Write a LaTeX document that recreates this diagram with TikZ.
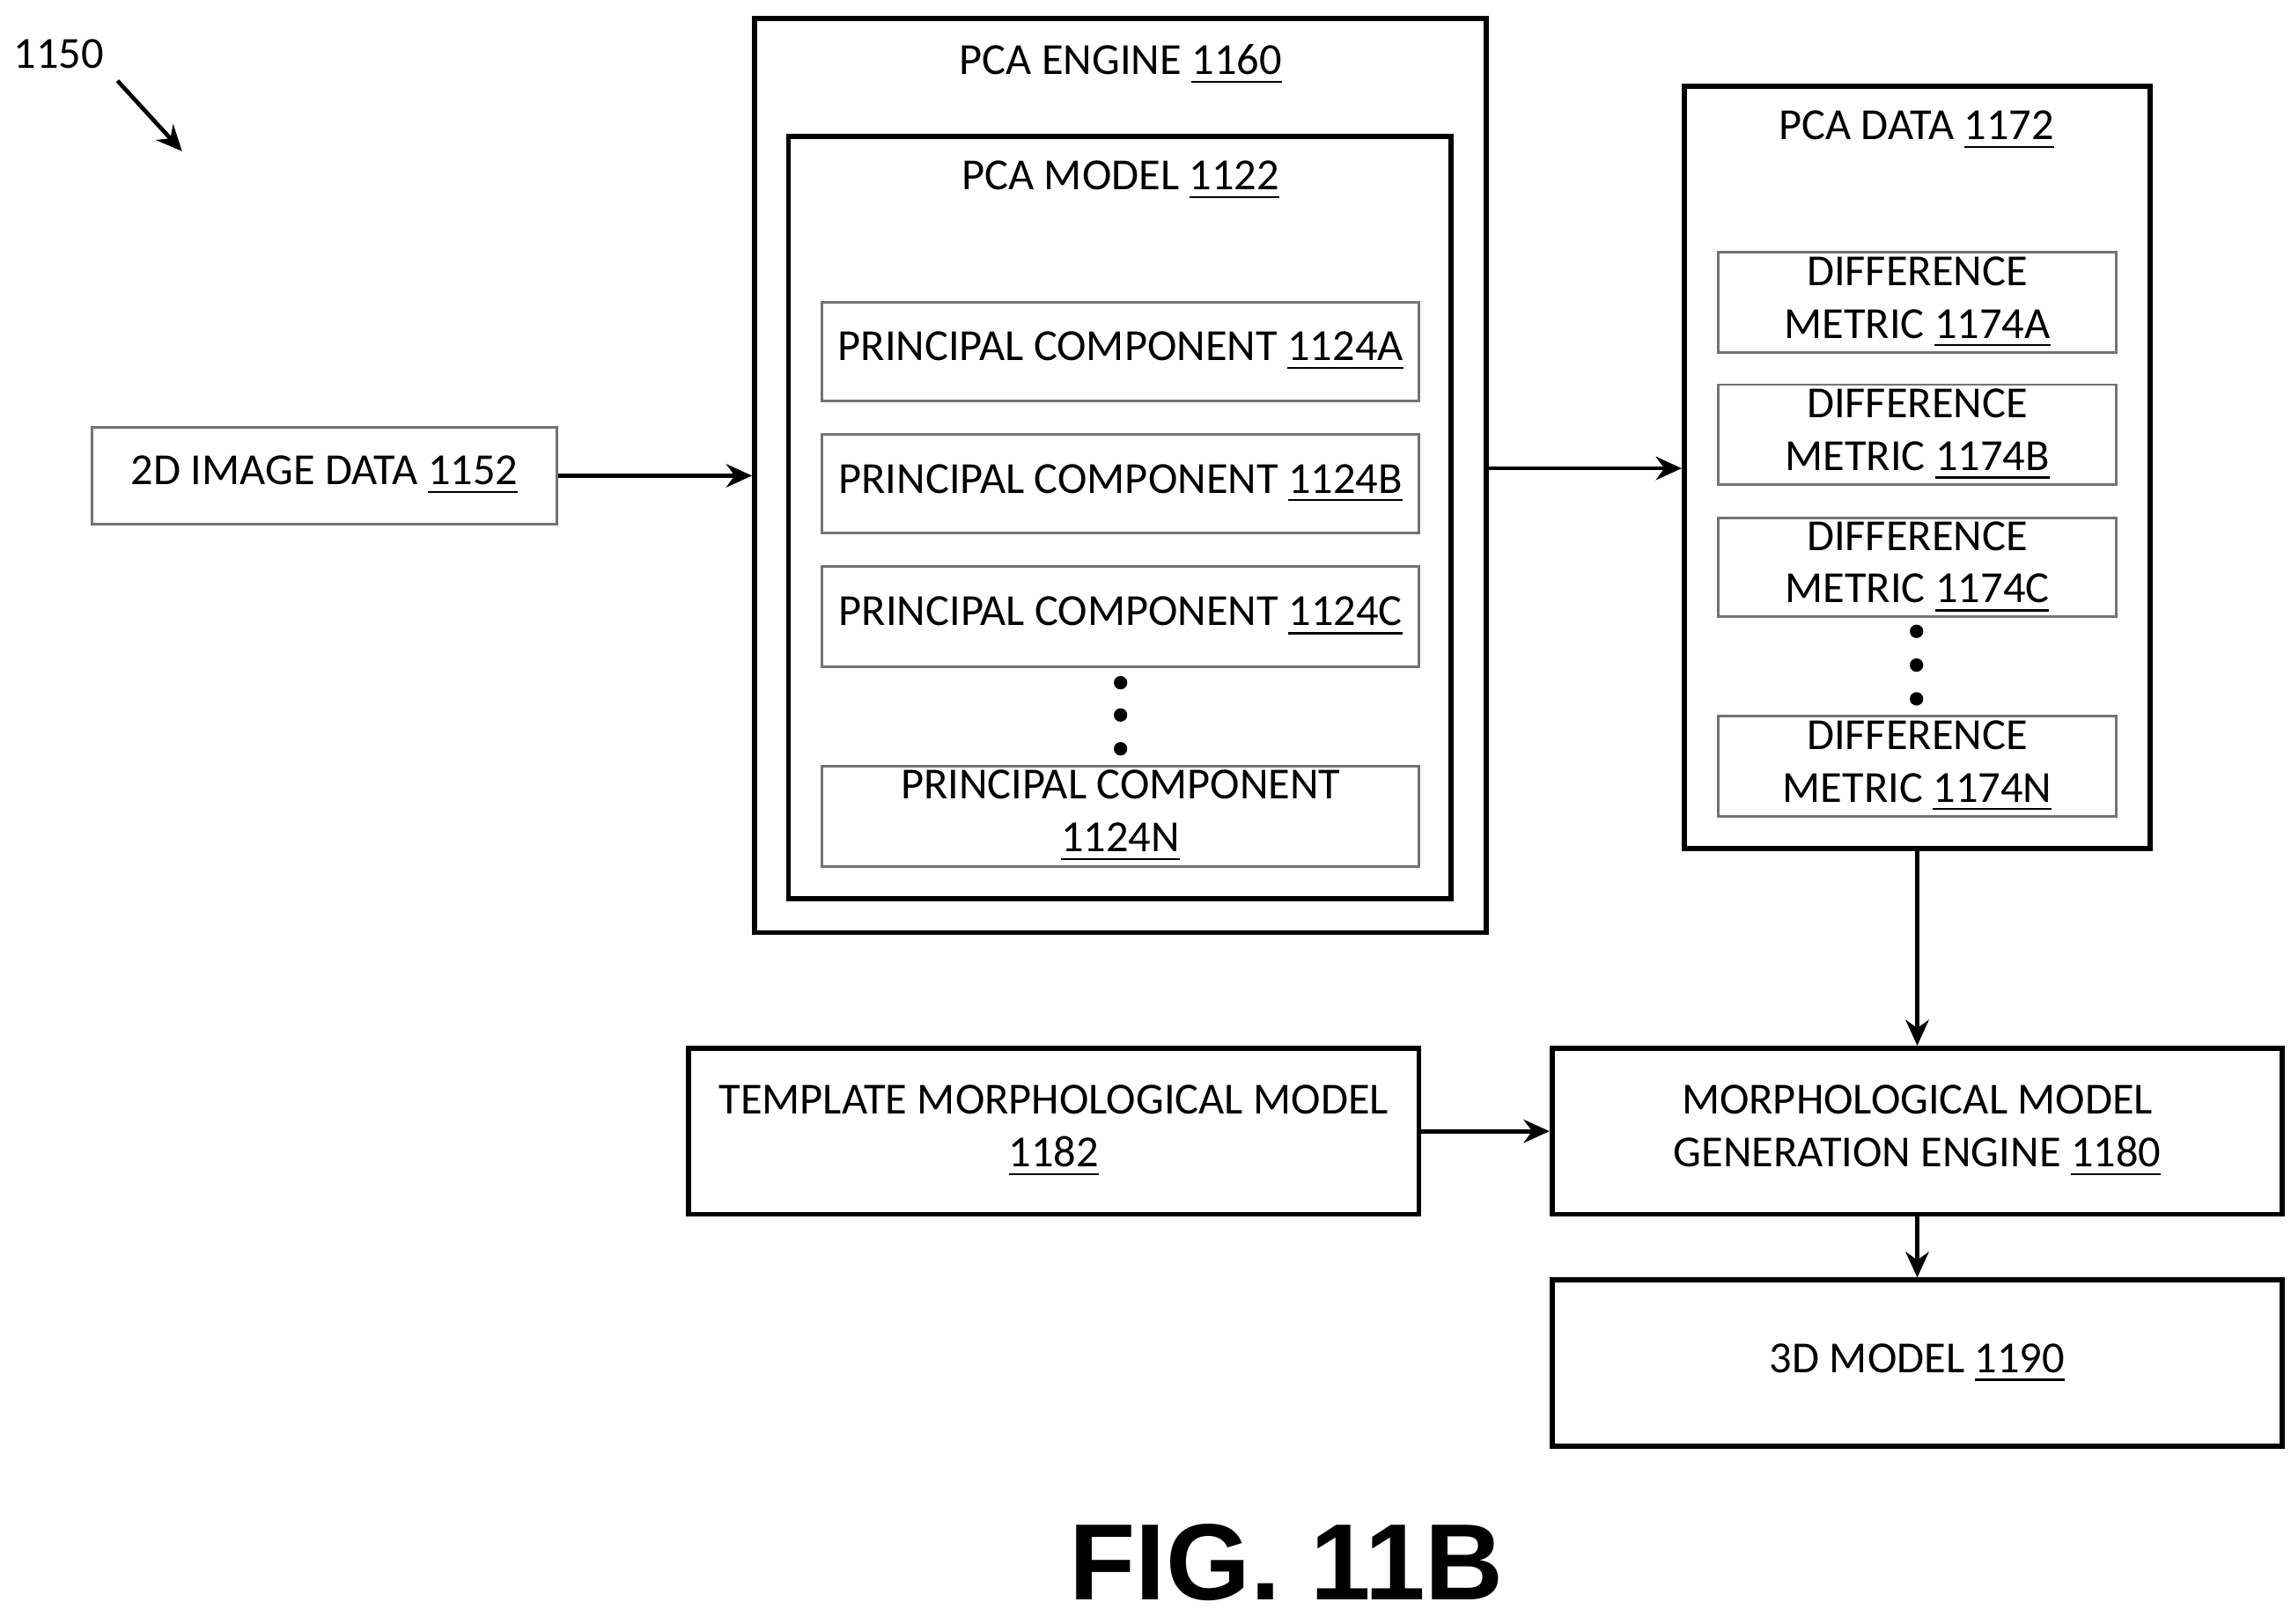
\documentclass[tikz,border=0pt]{standalone}
\usepackage{fontspec}
\setmainfont{Carlito}
\newfontfamily\figfont{Liberation Sans}
\usetikzlibrary{arrows.meta}
\newcommand{\un}[1]{\underline{#1}}
\tikzset{
  every node/.style={font=\fontsize{8.6}{10.2}\selectfont, align=center, inner sep=0pt},
  thin box/.style={draw=black!55, line width=0.5pt},
  thick box/.style={draw=black, line width=1pt},
  arr/.style={-{Stealth[length=5pt,width=4.5pt]}, line width=0.8pt}
}
\begin{document}
\begin{tikzpicture}[x=0.01cm, y=-0.01cm]
  \useasboundingbox (0,0) rectangle (1560,1106);
  % label and pointer
  \node (ref) at (40,37) {1150};
  \coordinate (refa) at (80,55);
  \coordinate (refb) at (124,103);
  \draw[arr] (refa) -- (refb);
  % input
  \node[thin box, minimum width=3.16cm, minimum height=0.66cm] (img) at (221,324) {2D IMAGE DATA \un{1152}};
  % PCA engine
  \node[thick box, minimum width=4.98cm, minimum height=6.22cm] (engine) at (763,324) {};
  \node at (763,44) {PCA ENGINE \un{1160}};
  \node[thick box, minimum width=4.51cm, minimum height=5.19cm] (model) at (762.5,352.5) {};
  \node at (763,123) {PCA MODEL \un{1122}};
  \node[thin box, minimum width=4.06cm, minimum height=0.67cm] (pca) at (763,239.5) {PRINCIPAL COMPONENT \un{1124A}};
  \node[thin box, minimum width=4.06cm, minimum height=0.67cm] (pcb) at (763,329.5) {PRINCIPAL COMPONENT \un{1124B}};
  \node[thin box, minimum width=4.06cm, minimum height=0.68cm] (pcc) at (763,420) {PRINCIPAL COMPONENT \un{1124C}};
  \node[thin box, minimum width=4.06cm, minimum height=0.68cm] (pcn) at (763,556) {PRINCIPAL COMPONENT\\\un{1124N}};
  \foreach \yy in {465,487,510} \fill (763,\yy) circle (1.3pt);
  % PCA data
  \node[thick box, minimum width=3.17cm, minimum height=5.19cm] (data) at (1305.5,318.5) {};
  \node at (1305,89) {PCA DATA \un{1172}};
  \node[thin box, minimum width=2.71cm, minimum height=0.68cm] (dma) at (1305.5,206) {DIFFERENCE\\METRIC \un{1174A}};
  \node[thin box, minimum width=2.71cm, minimum height=0.68cm] (dmb) at (1305.5,296) {DIFFERENCE\\METRIC \un{1174B}};
  \node[thin box, minimum width=2.71cm, minimum height=0.67cm] (dmc) at (1305.5,386.5) {DIFFERENCE\\METRIC \un{1174C}};
  \node[thin box, minimum width=2.71cm, minimum height=0.68cm] (dmn) at (1305.5,522) {DIFFERENCE\\METRIC \un{1174N}};
  \foreach \yy in {430,453,476} \fill (1305,\yy) circle (1.3pt);
  % lower boxes
  \node[thick box, minimum width=4.97cm, minimum height=1.13cm] (tmpl) at (717.5,770.5) {TEMPLATE MORPHOLOGICAL MODEL\\\un{1182}};
  \node[thick box, minimum width=4.97cm, minimum height=1.13cm] (gen) at (1305.5,770.5) {MORPHOLOGICAL MODEL\\GENERATION ENGINE \un{1180}};
  \node[thick box, minimum width=4.97cm, minimum height=1.13cm] (out) at (1305.5,928.5) {3D MODEL \un{1190}};
  % connectors
  \draw[arr] (img) -- (engine.west |- img);
  \draw[arr] (engine.east |- 0,319) -- (data.west |- 0,319);
  \draw[arr] (data.south) -- (gen.north);
  \draw[arr] (tmpl) -- (gen);
  \draw[arr] (gen) -- (out);
  % caption
  \node[font=\figfont\bfseries\fontsize{21}{24}\selectfont] (fig) at (876,1064) {FIG. 11B};
\end{tikzpicture}
\end{document}
